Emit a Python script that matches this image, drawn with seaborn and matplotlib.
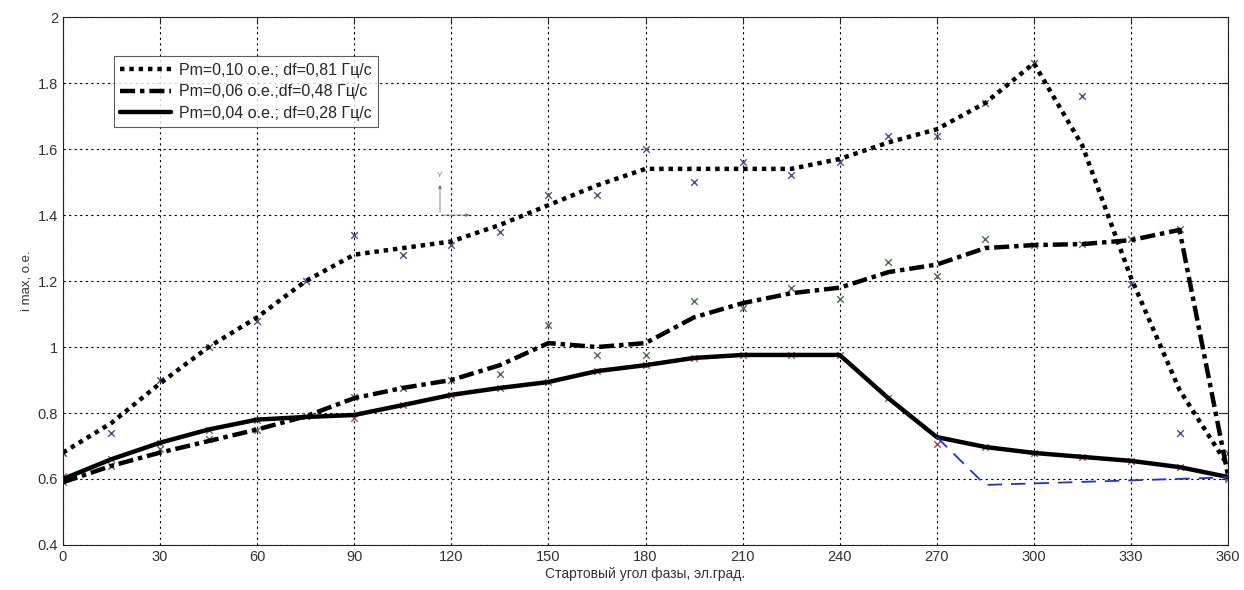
import numpy as np
import pandas as pd
import matplotlib
matplotlib.use("Agg")
import matplotlib.pyplot as plt
from matplotlib.ticker import FormatStrFormatter
import seaborn as sns

# starting phase angle, el. degrees
angle = list(range(0, 361, 15))

# Pm=0,10 o.e.; df=0,81 Hz/s
p10_line = [0.68, 0.77, 0.89, 1.00, 1.09, 1.20, 1.28, 1.30, 1.32, 1.37, 1.43, 1.49, 1.54,
            1.54, 1.54, 1.54, 1.57, 1.62, 1.66, 1.74, 1.86, 1.61, 1.21, 0.87, 0.64]
p10_pts = [0.68, 0.74, 0.90, 1.00, 1.08, 1.20, 1.34, 1.28, 1.31, 1.35, 1.46, 1.46, 1.60,
           1.50, 1.56, 1.52, 1.56, 1.64, 1.64, 1.74, 1.86, 1.76, 1.19, 0.74, 0.68]

# Pm=0,06 o.e.; df=0,48 Hz/s
p06_line = [0.59, 0.64, 0.68, 0.715, 0.75, 0.79, 0.845, 0.876, 0.90, 0.945, 1.012, 1.00, 1.012,
            1.09, 1.133, 1.163, 1.18, 1.227, 1.25, 1.30, 1.309, 1.312, 1.324, 1.355, 0.61]
p06_pts = [0.59, 0.64, 0.69, 0.72, 0.748, 0.79, 0.85, 0.876, 0.90, 0.918, 1.067, 0.976, 0.976,
           1.14, 1.118, 1.18, 1.145, 1.258, 1.215, 1.327, 1.31, 1.312, 1.327, 1.358, 0.60]

# Pm=0,04 o.e.; df=0,28 Hz/s
p04_line = [0.60, 0.66, 0.71, 0.75, 0.78, 0.788, 0.794, 0.824, 0.855, 0.876, 0.894, 0.927, 0.945,
            0.967, 0.976, 0.976, 0.976, 0.845, 0.727, 0.697, 0.679, 0.667, 0.655, 0.636, 0.606]
p04_pts = [0.61, 0.66, 0.71, 0.75, 0.78, 0.79, 0.785, 0.824, 0.855, 0.876, 0.894, 0.927, 0.945,
           0.967, 0.976, 0.976, 0.976, 0.845, 0.706, 0.697, 0.679, 0.667, 0.655, 0.636, 0.606]

# blue dashed branch
blue_angle = [270, 285, 360]
blue_vals = [0.727, 0.582, 0.605]

labels = ["Pm=0,10 о.е.; df=0,81 Гц/с",
          "Pm=0,06 о.е.;df=0,48 Гц/с",
          "Pm=0,04 о.е.; df=0,28 Гц/с"]

sns.set_style("white")
plt.rcParams['font.family'] = ['Liberation Sans', 'DejaVu Sans']

fig = plt.figure(figsize=(12.44, 5.90), dpi=100)
ax = fig.add_axes([0.0506, 0.0763, 0.9366, 0.8947])

lw = 3.2
sns.lineplot(x=angle, y=p10_line, ax=ax, color="black", lw=lw, label=labels[0])
sns.lineplot(x=angle, y=p06_line, ax=ax, color="black", lw=lw, label=labels[1])
sns.lineplot(x=angle, y=p04_line, ax=ax, color="black", lw=lw, label=labels[2])
ax.lines[0].set_linestyle((0, (1.0, 1.1)))
ax.lines[1].set_linestyle((0, (3.4, 1.1, 1.0, 1.1)))
ax.lines[2].set_linestyle("-")
for l in ax.lines[:3]:
    l.set_dash_capstyle("butt")

sns.lineplot(x=blue_angle, y=blue_vals, ax=ax, color="#1f2fe0", lw=1.3,
             linestyle=(0, (8, 5)))

sns.scatterplot(x=angle, y=p10_pts, ax=ax, marker="x", color="#4a4f86", s=22, linewidth=1)
sns.scatterplot(x=angle, y=p06_pts, ax=ax, marker="x", color="#4f6f4f", s=22, linewidth=1)
sns.scatterplot(x=angle, y=p04_pts, ax=ax, marker="x", color="#b04848", s=22, linewidth=1)

# small coordinate glyph
ax.annotate("", xy=(116.5, 1.50), xytext=(116.5, 1.40),
            arrowprops=dict(arrowstyle="-|>", lw=0.6, color="#777777", mutation_scale=5))
ax.annotate("", xy=(126.5, 1.40), xytext=(116.5, 1.40),
            arrowprops=dict(arrowstyle="-|>", lw=0.6, color="#777777", mutation_scale=5))
ax.text(116.5, 1.51, "Y", fontsize=6, color="#777777", ha="center", va="bottom")

ax.set_xlim(0, 360)
ax.set_ylim(0.4, 2.0)
ax.set_xticks(np.arange(0, 361, 30))
ax.set_yticks(np.arange(0.4, 2.01, 0.2))
ax.yaxis.set_major_formatter(FormatStrFormatter("%g"))
ax.grid(True, color="black", linestyle=(0, (2, 3)), lw=0.8)
ax.tick_params(direction="in", top=True, right=True, length=5, labelsize=10.5,
               labelcolor="#333333")
for s in ax.spines.values():
    s.set_color("#222222")
    s.set_linewidth(0.8)

ax.set_xlabel("Стартовый угол фазы, эл.град.", fontsize=10, labelpad=2, color="#333333")
ax.set_ylabel("i max, о.е.", fontsize=9.5, labelpad=4, color="#333333")

leg = ax.legend(loc="upper left", bbox_to_anchor=(0.0438, 0.926), fontsize=11.5,
                handlelength=3.2, frameon=True, fancybox=False, borderpad=0.4,
                labelspacing=0.42, handletextpad=0.45, borderaxespad=0)
leg.get_frame().set_edgecolor("#333333")
leg.get_frame().set_linewidth(0.8)

fig.savefig("out.png", dpi=100)
